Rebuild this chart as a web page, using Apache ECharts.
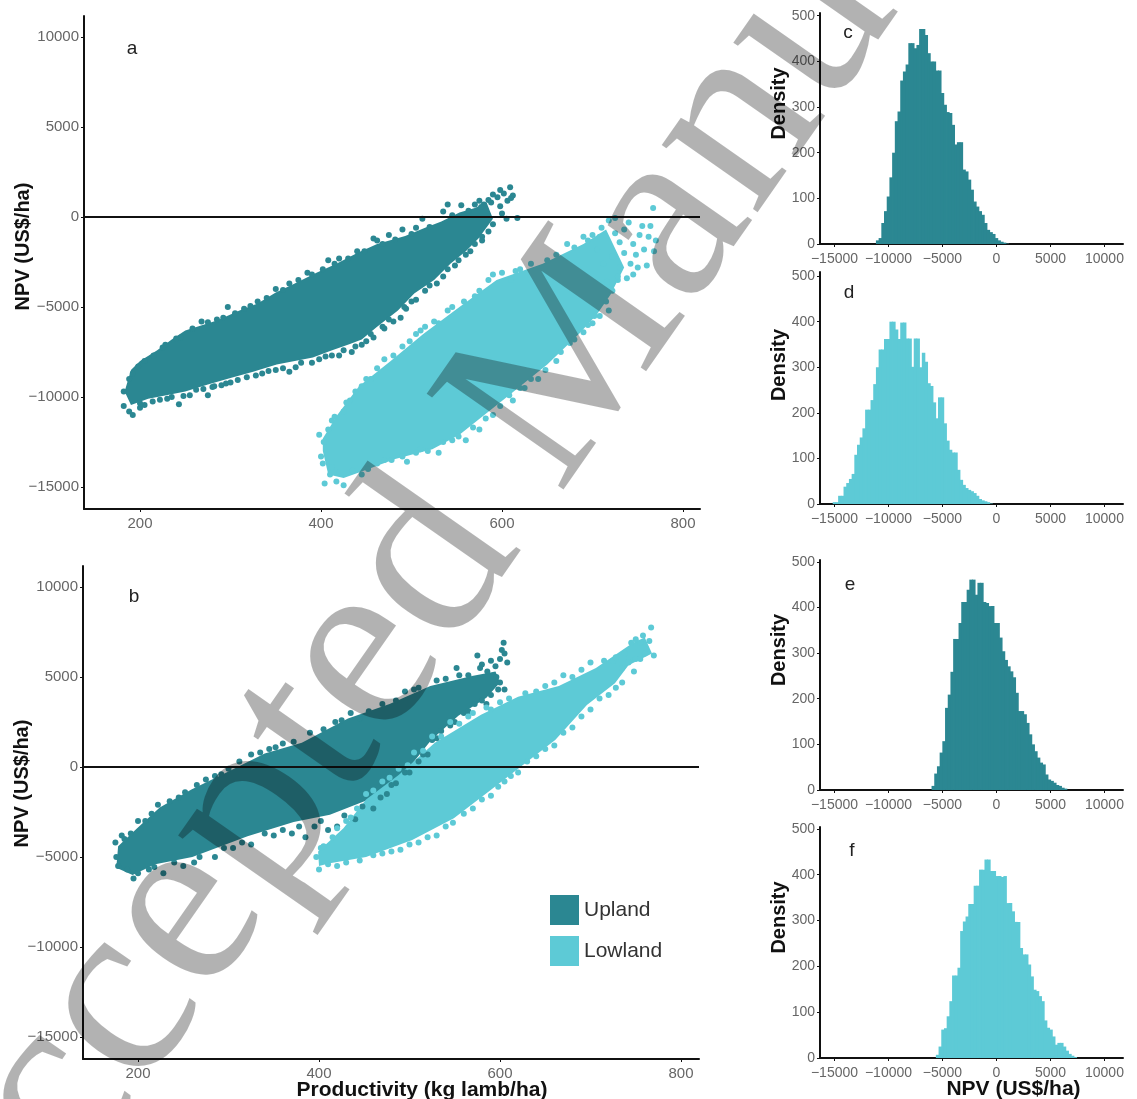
<!DOCTYPE html>
<html><head><meta charset="utf-8">
<script src="https://cdn.jsdelivr.net/npm/echarts@6/dist/echarts.min.js"></script>
<style>html,body{margin:0;padding:0;background:#fff}#c{width:1137px;height:1099px}</style>
</head><body><div id="c"></div>
<script>
const scatterXTicks=[200,400,600,800];
const scatterYTicks=[-15000,-10000,-5000,0,5000,10000];
const histXTicks=[-15000,-10000,-5000,0,5000,10000];
const histYTicks=[0,100,200,300,400,500];

// dense cores of the point clouds, read as outlines from the picture
const upA_core=[[183,-9700],[190,-8500],[200,-8000],[219,-7400],[235,-6800],[250,-6300],[285,-5750],[310,-5200],[330,-4800],[350,-4200],[371,-3700],[395,-3100],[417,-2600],[440,-2000],[462,-1500],[493,-1050],[515,-600],[533,-250],[553,250],[570,500],[583,800],[590,-100],[574,-1200],[560,-1900],[543,-2600],[525,-3500],[503,-4250],[485,-5200],[462,-6100],[445,-6800],[432,-7050],[410,-7450],[391,-7800],[351,-8200],[325,-8600],[300,-8950],[275,-9300],[250,-9700],[225,-9950],[209,-10100],[190,-10450]];
const lowA_core=[[402,-13000],[402,-12300],[418,-11000],[442,-9400],[477,-8000],[513,-6500],[553,-5000],[594,-3500],[645,-2600],[690,-1500],[715,-700],[735,-2800],[720,-4300],[705,-5400],[685,-6500],[650,-8200],[604,-10050],[553,-12100],[523,-12900],[482,-13450],[442,-14200],[425,-14500],[408,-14300]];
const upB_core=[[178,-4400],[199,-3400],[224,-2250],[259,-1250],[300,-250],[340,750],[381,1350],[432,2700],[478,3500],[523,4500],[569,5050],[595,5300],[600,4700],[585,3850],[554,2850],[524,1500],[493,-450],[453,-1850],[412,-2650],[372,-3050],[321,-3850],[260,-5000],[219,-5400],[194,-6000],[176,-5600]];
const lowB_core=[[399,-4700],[427,-3400],[452,-1800],[488,-450],[528,1350],[579,2900],[620,3900],[665,4500],[706,5500],[747,6900],[760,7200],[768,6300],[742,5650],[727,4650],[696,3450],[661,1500],[620,-100],[589,-1300],[549,-2850],[503,-4050],[452,-5000],[412,-5350],[400,-5500]];

// individually visible points around those cores
const upA_pts=[[598,1500],[609,1650],[612,1200],[606,900],[598,600],[610,1050],[602,1300],[595,1100],[590,1250],[585,950],[580,700],[575,900],[600,200],[605,-100],[617,-50],[590,-400],[585,-800],[578,-1100],[570,-1500],[560,-2100],[548,-2700],[535,-3300],[528,-3700],[515,-4100],[500,-4700],[494,-5100],[488,-5600],[480,-5800],[470,-6200],[458,-6700],[445,-7100],[434,-7500],[420,-7700],[405,-7750],[390,-8100],[372,-8350],[365,-8600],[350,-8500],[335,-8700],[300,-9200],[290,-9350],[280,-9450],[275,-9900],[255,-9900],[243,-10400],[230,-10100],[205,-10450],[188,-10800],[192,-11000],[182,-10500],[200,-10600],[182,-9700],[188,-9000],[198,-8300],[215,-7700],[228,-7100],[245,-6700],[268,-5800],[285,-5700],[297,-5000],[315,-5100],[330,-4700],[350,-4000],[365,-3700],[385,-3100],[408,-2400],[420,-2300],[440,-1900],[458,-1200],[462,-1300],[475,-1000],[490,-700],[505,-600],[512,-100],[540,700],[535,300],[555,650],[570,700],[200,-10350],[214,-10250],[222,-10150],[235,-10000],[248,-9950],[262,-9600],[270,-9550],[282,-9400],[295,-9250],[308,-9050],[318,-8900],[328,-8800],[342,-8550],[358,-8400],[378,-8100],[398,-7900],[412,-7700],[425,-7400],[438,-7200],[450,-6900],[455,-6500],[468,-6100],[475,-5700],[492,-5000],[505,-4600],[520,-3800],[540,-2900],[552,-2400],[565,-1900],[578,-1300],[192,-8700],[205,-8000],[225,-7250],[240,-6750],[258,-6200],[275,-5850],[292,-5600],[305,-5350],[322,-4950],[340,-4500],[358,-4050],[375,-3500],[390,-3200],[402,-2900],[415,-2600],[430,-2300],[448,-1900],[468,-1500],[482,-1250],[500,-950],[520,-550],[545,100],[563,350],[577,550],[588,800]];
const lowA_pts=[[700,-1000],[710,-600],[718,-200],[725,-900],[730,-1400],[735,-700],[740,-300],[745,-1500],[748,-2100],[752,-1000],[757,-1800],[760,-2700],[742,-2600],[738,-3400],[728,-3500],[722,-2200],[735,-2000],[755,-500],[762,-1100],[770,-1300],[767,500],[764,-500],[768,-1900],[745,-3200],[750,-2800],[705,-1800],[712,-2600],[730,-2800],[716,-3600],[718,-5200],[708,-5500],[700,-5900],[695,-6000],[680,-6800],[660,-8000],[640,-9000],[625,-9500],[612,-10200],[590,-11000],[575,-11800],[560,-12400],[545,-12400],[530,-13100],[510,-12900],[495,-13600],[470,-13500],[445,-14300],[425,-14900],[417,-14700],[404,-14800],[410,-14300],[400,-13300],[398,-12100],[403,-12500],[412,-11300],[425,-10800],[432,-10200],[455,-9000],[445,-9400],[470,-7900],[490,-7200],[515,-6100],[505,-6500],[530,-5900],[545,-5000],[570,-4400],[590,-3200],[610,-3500],[620,-2900],[650,-2400],[672,-1500],[690,-1100],[725,-50],[402,-13700],[412,-13900],[420,-14200],[435,-14100],[452,-14000],[462,-13700],[478,-13500],[490,-13300],[505,-13100],[518,-13000],[535,-12500],[552,-12200],[568,-11700],[582,-11200],[598,-10500],[608,-9900],[620,-9500],[632,-9000],[648,-8500],[665,-7500],[675,-7000],[690,-6400],[702,-5500],[715,-4700],[722,-4100],[728,-3300],[408,-11800],[415,-11100],[428,-10300],[438,-9700],[450,-9000],[462,-8400],[480,-7700],[498,-6900],[510,-6300],[525,-5800],[540,-5200],[558,-4700],[575,-4100],[585,-3500],[600,-3100],[615,-3000],[632,-2600],[660,-2100],[680,-1700],[695,-1300],[708,-1100]];
const upB_pts=[[604,6900],[602,6500],[605,6300],[600,6000],[575,6200],[580,5700],[590,5900],[595,5600],[608,5800],[586,5300],[596,5000],[600,4700],[605,4300],[598,4300],[590,4000],[580,3700],[572,3500],[560,3000],[550,2500],[535,2000],[525,1500],[520,700],[510,300],[495,-300],[485,-900],[475,-1500],[460,-2300],[440,-2900],[420,-3300],[410,-3500],[395,-3300],[385,-3900],[370,-3700],[350,-3800],[325,-4300],[305,-4500],[285,-5000],[262,-5300],[250,-5500],[228,-5900],[212,-5700],[195,-6200],[188,-5700],[178,-5500],[176,-5000],[175,-4200],[182,-3800],[200,-3000],[222,-2100],[245,-1700],[265,-1000],[285,-500],[300,-100],[325,700],[345,1000],[360,1300],[390,1900],[418,2500],[435,3000],[445,2700],[470,3500],[495,4200],[510,4400],[530,4800],[552,5500],[565,5100],[185,-4000],[192,-3700],[208,-3000],[215,-2600],[235,-1900],[252,-1400],[275,-700],[292,-400],[312,300],[335,800],[352,1100],[372,1400],[405,2100],[425,2600],[455,3100],[485,3700],[505,4300],[540,4900],[555,5100],[578,5500],[200,-5900],[218,-5550],[240,-5300],[268,-5000],[295,-4500],[315,-4200],[340,-3700],[360,-3500],[378,-3300],[402,-3000],[428,-2700],[448,-2200],[468,-1700],[480,-1000],[500,-300],[515,700],[530,1600],[545,2300],[565,3100],[585,3500]];
const lowB_pts=[[767,7750],[758,7300],[750,7100],[745,6900],[755,6900],[765,7000],[770,6200],[760,6300],[750,6000],[742,5800],[735,5500],[738,6300],[725,5900],[728,6100],[700,5800],[690,5400],[670,5100],[650,4500],[628,4100],[610,3800],[590,3200],[570,3000],[545,2500],[525,1700],[505,800],[488,-100],[470,-800],[452,-1500],[435,-2800],[420,-3400],[402,-4500],[397,-5000],[400,-5700],[410,-5400],[420,-5500],[445,-5200],[470,-4800],[490,-4600],[510,-4200],[530,-3800],[548,-3100],[570,-2300],[590,-1600],[605,-800],[620,-300],[640,600],[660,1200],[680,2200],[700,3200],[720,4000],[735,4700],[748,5300],[755,6000],[405,-4400],[415,-3900],[430,-3000],[442,-2300],[460,-1300],[478,-600],[498,100],[515,900],[535,1700],[555,2400],[565,2800],[585,3300],[600,3600],[640,4200],[660,4700],[680,5000],[715,5900],[430,-5300],[460,-4900],[480,-4700],[500,-4300],[520,-3900],[540,-3300],[560,-2600],[580,-1800],[598,-1100],[612,-500],[630,300],[650,1000],[670,1900],[690,2800],[710,3800],[728,4400]];

// histogram bar heights, 250 US$/ha bins
const binWidth=250;
const histCStart=-11000;
const histC=[8,13,46,72,104,146,200,269,290,358,378,393,440,440,429,436,471,471,458,418,400,400,380,380,331,305,289,287,261,218,223,223,163,159,141,119,93,82,72,64,46,31,26,22,13,8,5,3,1];
const histDStart=-15000;
const histD=[4,4,18,18,38,46,55,66,108,130,146,166,207,207,228,263,300,339,339,362,362,400,400,383,362,398,398,363,363,301,363,363,300,332,312,265,259,223,188,234,234,177,139,119,113,113,75,53,42,35,31,28,24,18,11,8,6,4,1];
const histEStart=-5850;
const histE=[9,36,52,82,107,180,209,259,331,331,366,412,412,439,461,461,428,454,454,412,410,403,403,366,366,334,304,285,271,260,247,213,173,173,166,147,122,100,85,71,60,56,34,23,20,16,11,9,5,3];
const histFStart=-5450;
const histF=[7,25,62,65,91,124,180,180,197,277,298,309,336,336,376,376,411,411,433,433,408,408,397,397,395,397,338,338,320,297,297,240,226,226,204,178,149,146,135,124,82,66,62,47,29,33,33,25,16,9,5,2];

const UP='#2b8792', LOW='#5dcad6', AXIS='#111', LABEL='#666';
const FONT='"Liberation Sans",Arial,sans-serif';
const fmt=v=>String(v).replace('-','\u2212');

function grid(left,top,width,height){return {left,top,width,height,outerBoundsMode:'none',containLabel:false};}
const grids=[grid(84,16,616,493),grid(83,566,616,493),grid(820,13,303,231),grid(820,272,303,232),grid(820,560,303,230),grid(820,827,303,231)];

function xAxisOf(i,min,max,ticks,size,margin,extra){
  return Object.assign({type:'value',gridIndex:i,min,max,splitLine:{show:false},nameMoveOverlap:false,
    axisLine:{onZero:false,lineStyle:{color:AXIS,width:2}},
    axisTick:{show:true,length:3,customValues:ticks,lineStyle:{color:AXIS,width:1}},
    axisLabel:{customValues:ticks,formatter:fmt,color:LABEL,fontSize:size,fontFamily:FONT,margin,showMinLabel:true,showMaxLabel:true,hideOverlap:false}},extra||{});
}
function yAxisOf(i,min,max,ticks,size,title,gap,fs,pad){
  return {type:'value',gridIndex:i,min,max,splitLine:{show:false},nameMoveOverlap:false,
    name:title,nameLocation:'middle',nameGap:gap,nameRotate:90,
    nameTextStyle:{fontFamily:FONT,fontWeight:'bold',fontSize:fs,color:'#111',padding:[0,0,0,pad]},
    axisLine:{show:true,onZero:false,lineStyle:{color:AXIS,width:2}},
    axisTick:{show:true,length:3,customValues:ticks,lineStyle:{color:AXIS,width:1}},
    axisLabel:{customValues:ticks,formatter:fmt,color:LABEL,fontSize:size,fontFamily:FONT,margin:5,showMinLabel:true,showMaxLabel:true,hideOverlap:false}};
}
const xAxes=[
  xAxisOf(0,138.1,818.8,scatterXTicks,15,7),
  xAxisOf(1,139.2,819.9,scatterXTicks,15,7,{name:'Productivity (kg lamb/ha)',nameLocation:'middle',nameGap:21,nameTextStyle:{fontFamily:FONT,fontWeight:'bold',fontSize:21,color:'#111',padding:[0,0,0,62]}}),
  xAxisOf(2,-16340,11715,histXTicks,14,8),
  xAxisOf(3,-16340,11715,histXTicks,14,8),
  xAxisOf(4,-16340,11715,histXTicks,14,8),
  xAxisOf(5,-16340,11715,histXTicks,14,8,{name:'NPV (US$/ha)',nameLocation:'middle',nameGap:21,nameTextStyle:{fontFamily:FONT,fontWeight:'bold',fontSize:21,color:'#111',padding:[0,0,0,84]}})
];
const yAxes=[
  yAxisOf(0,-16222,11167,scatterYTicks,15,'NPV (US$/ha)',51,20,32),
  yAxisOf(1,-16222,11167,scatterYTicks,15,'NPV (US$/ha)',51,20,58),
  yAxisOf(2,0,506,histYTicks,14,'Density',31,20,50),
  yAxisOf(3,0,509,histYTicks,14,'Density',31,20,46),
  yAxisOf(4,0,504,histYTicks,14,'Density',31,20,50),
  yAxisOf(5,0,504,histYTicks,14,'Density',31,20,50)
];
function core(i,name,color,outline){
  return {type:'custom',name,coordinateSystem:'cartesian2d',xAxisIndex:i,yAxisIndex:i,data:outline,silent:true,itemStyle:{color},
    encode:{x:0,y:1},
    renderItem:function(params,api){
      if(params.dataIndex!==0) return null;
      return {type:'polygon',shape:{points:outline.map(p=>api.coord(p))},style:{fill:color}};
    }};
}
function pts(i,name,color,data){
  return {type:'scatter',name,xAxisIndex:i,yAxisIndex:i,data,symbolSize:6,itemStyle:{color,opacity:1},silent:true};
}
function hist(i,color,start,values){
  return {type:'bar',xAxisIndex:i,yAxisIndex:i,barWidth:3.5,itemStyle:{color},silent:true,
    data:values.map((v,k)=>[start+k*binWidth,v])};
}
function zero(i){
  return {type:'line',xAxisIndex:i,yAxisIndex:i,data:[],silent:true,
    markLine:{silent:true,symbol:'none',label:{show:false},lineStyle:{color:'#111',width:2,type:'solid'},data:[{yAxis:0}]}};
}
const panelLetters=[['a',132,49],['b',134,597],['c',848,33],['d',849,293],['e',850,585],['f',852,851]];
const graphics=panelLetters.map(l=>({type:'text',x:l[1],y:l[2],z:50,style:{text:l[0],font:'19px '+FONT,fill:'#222',align:'center',verticalAlign:'middle'}}));
graphics.push({type:'text',x:20,y:1371,rotation:55*Math.PI/180,z:100,silent:true,
  style:{text:'Accepted Manuscript',font:'255px "Liberation Serif",serif',fill:'rgba(0,0,0,0.3)',verticalAlign:'bottom'}});

const chart=echarts.init(document.getElementById('c'),null,{renderer:'canvas'});
chart.setOption({
  animation:false,backgroundColor:'#fff',
  grid:grids,xAxis:xAxes,yAxis:yAxes,
  legend:{data:['Upland','Lowland'],orient:'vertical',left:550,top:895,padding:0,icon:'rect',itemWidth:29,itemHeight:30,itemGap:11,selectedMode:false,textStyle:{fontFamily:FONT,fontSize:21,color:'#333',padding:[6,0,0,0]}},
  graphic:graphics,
  series:[
    core(0,'Upland',UP,upA_core),pts(0,'Upland',UP,upA_pts),
    core(0,'Lowland',LOW,lowA_core),pts(0,'Lowland',LOW,lowA_pts),zero(0),
    core(1,'Upland',UP,upB_core),pts(1,'Upland',UP,upB_pts),
    core(1,'Lowland',LOW,lowB_core),pts(1,'Lowland',LOW,lowB_pts),zero(1),
    hist(2,UP,histCStart,histC),hist(3,LOW,histDStart,histD),hist(4,UP,histEStart,histE),hist(5,LOW,histFStart,histF)
  ]
});
</script></body></html>
